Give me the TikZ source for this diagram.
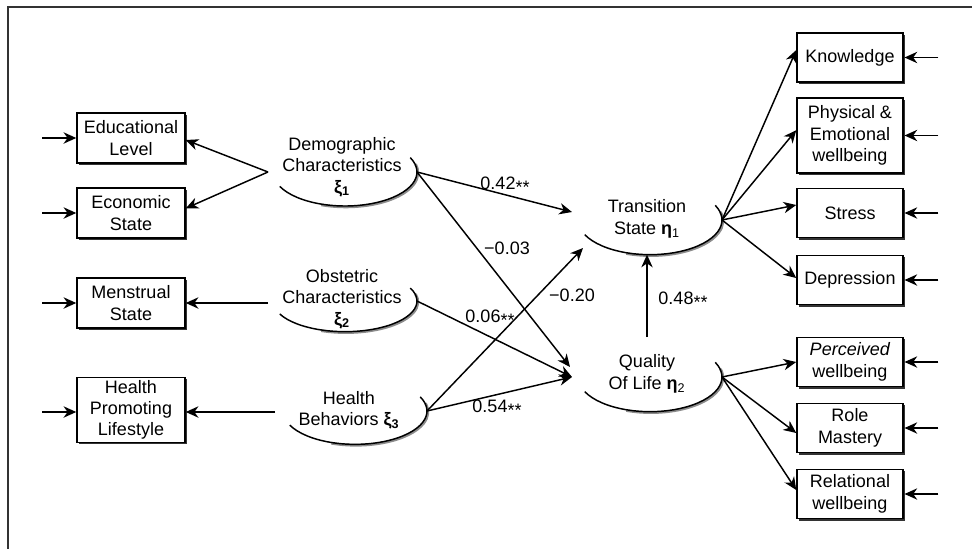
\documentclass[tikz,border=0pt]{standalone}
\usepackage{fontspec}
\setmainfont{Liberation Sans}
\usetikzlibrary{arrows.meta,shadows}
\newcommand{\stars}{\raisebox{-0.2em}{**}}
\newcommand{\LatArc}[4]{%
  \coordinate (#1) at (#2,#3);
  \draw[black!45, line width=2pt] ([shift={(250:54pt and #4)},xshift=0.7pt,yshift=-0.7pt]#1) arc[start angle=250,end angle=375,x radius=54pt,y radius=#4];
  \draw[line width=1.1pt] ([shift={(205:54pt and #4)}]#1) arc[start angle=205,end angle=385,x radius=54pt,y radius=#4];
  \coordinate (#1-E) at ([shift={(0:54pt and #4)}]#1);
  \coordinate (#1-S) at ([shift={(270:54pt and #4)}]#1);
}
\begin{document}
\begin{tikzpicture}[x=0.75pt,y=-0.75pt,
  font=\fontsize{13.5}{16}\selectfont,
  obs/.style={draw, line width=1.1pt, fill=white, align=center, inner sep=0pt,
    minimum width=81pt, minimum height=37.5pt,
    drop shadow={shadow xshift=1.4pt, shadow yshift=-1.4pt, fill=black!80, opacity=1}},
  obsR/.style={obs, minimum width=79.5pt, minimum height=37pt},
  lat/.style={align=center, inner sep=0pt},
  arr/.style={-{Stealth[length=9.5pt,width=8.5pt,inset=3pt]}, line width=1.1pt},
  lbl/.style={inner sep=1pt}
]
\useasboundingbox (0,0) rectangle (972,550);
% frame
\draw[line width=1.2pt, black!80] (972,7) -- (8,7) -- (8,549);

% observed boxes, left
\node[obs] (edu) at (131,138) {Educational\\Level};
\node[obs] (eco) at (131,213) {Economic\\State};
\node[obs] (mens) at (131,303) {Menstrual\\State};
\node[obs, minimum height=48.75pt] (hpl) at (131,410) {Health\\Promoting\\Lifestyle};

% observed boxes, right
\node[obsR] (know) at (850,57.5) {Knowledge};
\node[obsR, minimum height=56pt] (phys) at (850,135.5) {Physical \&\\Emotional\\wellbeing};
\node[obsR] (stress) at (850,213) {Stress};
\node[obsR] (dep) at (850,280) {Depression};
\node[obsR] (perc) at (850,362) {\textit{Perceived}\\wellbeing};
\node[obsR] (role) at (850,428) {Role\\Mastery};
\node[obsR] (rel) at (850,494) {Relational\\wellbeing};

% latent variables
\LatArc{D}{345}{172}{25.5pt}
\LatArc{O}{345}{301}{23pt}
\LatArc{H}{355}{411}{25pt}
\LatArc{T}{650}{220}{26pt}
\LatArc{Q}{650}{377}{26pt}

\node[lat] (demo) at (342,167) {Demographic\\Characteristics\\\textbf{ξ}\textsubscript{\textbf{1}}};
\node[lat] (obst) at (342,299) {Obstetric\\Characteristics\\\textbf{ξ}\textsubscript{\textbf{2}}};
\node[lat] (hb) at (349,410) {Health\\Behaviors \textbf{ξ}\textsubscript{\textbf{3}}};
\node[lat] (trans) at (647,219) {Transition\\State \textbf{η}\textsubscript{1}};
\node[lat] (qol) at (647,374) {Quality\\Of Life \textbf{η}\textsubscript{2}};

% helper coordinates
\coordinate (demoL) at (268,172);
\coordinate (obsL) at (268,303);
\coordinate (hbL) at (275,412);
\coordinate (qtop) at (647,337);
\coordinate (Tin1) at (572,212);
\coordinate (Tin2) at (583,248);
\coordinate (Qin1) at (570,367);
\coordinate (Qin2) at (572,377);

% left measurement arrows
\draw[arr] (demoL) -- ([yshift=-1.5pt]edu.east);
\draw[arr] (demoL) -- ([yshift=3.5pt]eco.east);
\draw[arr] (obsL) -- (mens.east);
\draw[arr] (hbL) -- ([yshift=-1.5pt]hpl.east);

% left error arrows
\foreach \b in {edu,eco,mens} \draw[arr] ([xshift=-25.5pt]\b.west) -- (\b.west);
\draw[arr] ([xshift=-25.5pt,yshift=-1.5pt]hpl.west) -- ([yshift=-1.5pt]hpl.west);

% right error arrows
\foreach \b in {know,phys,stress,dep,perc,role,rel} \draw[arr] ([xshift=26pt]\b.east) -- ([xshift=0.6pt]\b.east);

% structural paths
\draw[arr] (D-E) -- (Tin1);
\draw[arr] (D-E) -- (Qin1);
\draw[arr] (O-E) -- (Qin2);
\draw[arr] (H-E) -- (Qin2);
\draw[arr] (H-E) -- (Tin2);
\draw[arr] (qtop) -- (qtop |- T-S);

% right measurement arrows
\draw[arr] (T-E) -- ([yshift=5.6pt]know.west);
\draw[arr] (T-E) -- ([yshift=4pt]phys.west);
\draw[arr] (T-E) -- ([yshift=6pt]stress.west);
\draw[arr] (T-E) -- ([yshift=1.5pt]dep.west);
\draw[arr] (Q-E) -- (perc.west);
\draw[arr] (Q-E) -- ([yshift=-3.75pt]role.west);
\draw[arr] (Q-E) -- ([yshift=3pt]rel.west);

% labels
\node[lbl] (l1) at (505,185) {0.42\stars};
\node[lbl] (l2) at (507,248) {−0.03};
\node[lbl] (l3) at (572,295) {−0.20};
\node[lbl] (l4) at (490,318) {0.06\stars};
\node[lbl] (l5) at (497,408) {0.54\stars};
\node[lbl] (l6) at (683,300) {0.48\stars};
\end{tikzpicture}
\end{document}
